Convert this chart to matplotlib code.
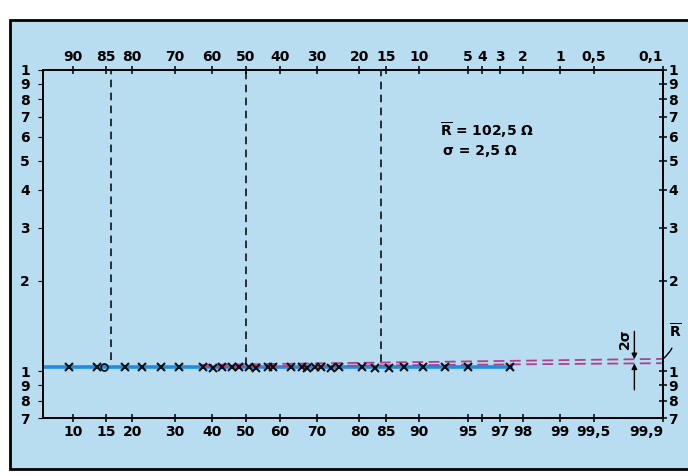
import numpy as np
import matplotlib
matplotlib.use("Agg")
import matplotlib.pyplot as plt
from matplotlib.patches import Rectangle
from matplotlib.ticker import NullLocator
from statistics import NormalDist

# Summenhaeufigkeit in % (untere Skala), Widerstand in 100 Ohm (log. Skala)
p_points = [9.5, 13.5, 18.5, 22, 26.5, 31, 37.5, 40.5, 43, 46, 48, 51, 53,
            56.5, 58, 63, 66, 67.5, 69.5, 71, 73.5, 75.5, 80.5, 83, 85.5,
            88, 90.5, 93, 95, 97.5]
r_points = [1.032, 1.030, 1.034, 1.031, 1.030, 1.031, 1.030, 1.029, 1.031,
            1.030, 1.032, 1.031, 1.029, 1.030, 1.031, 1.030, 1.032, 1.029,
            1.031, 1.030, 1.029, 1.030, 1.031, 1.029, 1.027, 1.030, 1.031,
            1.031, 1.030, 1.031]
p_circle = [14.6]
r_circle = [1.034]

# Ausgleichsgerade (blau) und Hilfslinien (magenta)
fit_p = [6.64, 97.6]
fit_r = [1.030, 1.030]
upper_p = [37, 99.9]
upper_r = [1.050, 1.100]
lower_p = [37, 99.9]
lower_r = [1.035, 1.064]

# senkrechte Linien bei -sigma, Mittelwert, +sigma
sigma_p = [15.87, 50, 84.13]
sigma_end = [1.09, 1.05, 1.07]

bottom_ticks = [10, 15, 20, 30, 40, 50, 60, 70, 80, 85, 90, 95, 96, 97, 98, 99, 99.5, 99.9]
bottom_labels = ['10', '15', '20', '30', '40', '50', '60', '70', '80', '85', '90',
                 '95', '', '97', '98', '99', '99,5', '99,9']
top_ticks = [90, 85, 80, 70, 60, 50, 40, 30, 20, 15, 10, 5, 4, 3, 2, 1, 0.5, 0.1]
top_labels = ['90', '85', '80', '70', '60', '50', '40', '30', '20', '15', '10',
              '5', '4', '3', '2', '1', '0,5', '0,1']
y_ticks = [0.7, 0.8, 0.9, 1, 2, 3, 4, 5, 6, 7, 8, 9, 10]
y_labels = ['7', '8', '9', '1', '2', '3', '4', '5', '6', '7', '8', '9', '1']

nd = NormalDist()


def to_z(p):
    p = np.clip(np.asarray(p, dtype=float), 1e-4, 100 - 1e-4)
    return np.vectorize(lambda v: nd.inv_cdf(v / 100.0), otypes=[float])(p)


def from_z(z):
    z = np.asarray(z, dtype=float)
    return np.vectorize(lambda v: nd.cdf(v) * 100.0, otypes=[float])(z)


plt.rcParams['font.family'] = 'DejaVu Sans'
plt.rcParams['font.weight'] = 'bold'
plt.rcParams['font.size'] = 10
plt.rcParams['mathtext.fontset'] = 'dejavusans'

rbar = r'$\overline{\mathbf{R}}$'

bg = '#b8ddf0'
fig = plt.figure(figsize=(6.88, 4.76), dpi=100)
fig.add_artist(Rectangle((0.014, 0.015), 1.0, 0.943, transform=fig.transFigure,
                         facecolor=bg, edgecolor='black', lw=2, zorder=-10))

ax = fig.add_axes([43 / 688, 1 - 418 / 476, 620 / 688, 348 / 476])
ax.patch.set_visible(False)
ax.set_xscale('function', functions=(to_z, from_z))
ax.set_yscale('log')
ax.set_xlim(6.64, 99.9)
ax.set_ylim(0.7, 10)

ax.set_xticks(bottom_ticks, bottom_labels)
ax.xaxis.set_minor_locator(NullLocator())
ax.set_yticks(y_ticks, y_labels)
ax.yaxis.set_minor_locator(NullLocator())
ax.tick_params(axis='x', direction='inout', length=6, width=1.1, pad=2)
ax.tick_params(axis='y', left=False, pad=6)
ax.get_xticklabels()[-1].set_horizontalalignment('right')

axr = ax.twinx()
axr.set_yscale('log')
axr.set_ylim(0.7, 10)
axr.set_yticks(y_ticks, y_labels)
axr.yaxis.set_minor_locator(NullLocator())
axr.tick_params(axis='y', direction='inout', length=6, width=1.1, pad=1)

axt = ax.twiny()
axt.set_xscale('function', functions=(to_z, from_z))
axt.set_xlim(6.64, 99.9)
axt.set_xticks([100 - q for q in top_ticks], top_labels)
axt.xaxis.set_minor_locator(NullLocator())
axt.tick_params(axis='x', direction='inout', length=6, width=1.1, pad=1.5)
axt.get_xticklabels()[-1].set_horizontalalignment('right')

for a in (ax, axr, axt):
    for s in a.spines.values():
        s.set_linewidth(1.1)

ax.vlines(sigma_p, sigma_end, 10, colors='black', lw=1.1, linestyles=(0, (5, 3.5)))
ax.plot(fit_p, fit_r, color='#1e8ce6', lw=2.6, solid_capstyle='butt', zorder=2)
ax.plot(upper_p, upper_r, color='#b0408f', lw=1.3, dashes=(6, 3), zorder=3)
ax.plot(lower_p, lower_r, color='#b0408f', lw=1.3, dashes=(6, 3), zorder=3)
ax.plot(p_points, r_points, ls='none', marker='x', ms=6, mew=1.5, color='#111111', zorder=4)
ax.plot(p_circle, r_circle, ls='none', marker='o', ms=5, mfc='none', mec='#111111',
        mew=1.3, zorder=4)

ax.text(0.640, 0.826, rbar + ' = 102,5 \u03a9', transform=ax.transAxes, ha='left', va='center')
ax.text(0.645, 0.766, '\u03c3 = 2,5 \u03a9', transform=ax.transAxes, ha='left', va='center')

# 2 sigma Pfeile
arrow = dict(arrowstyle='-|>', color='black', lw=1.0, mutation_scale=8, shrinkA=0, shrinkB=0)
ax.annotate('', xy=(99.8, 1.097), xytext=(0, 20), textcoords='offset points', arrowprops=arrow)
ax.annotate('', xy=(99.8, 1.062), xytext=(0, -19), textcoords='offset points', arrowprops=arrow)
ax.annotate('2\u03c3', xy=(99.8, 1.097), xytext=(-7, 15), textcoords='offset points',
            rotation=90, ha='center', va='center')
ax.annotate(rbar, xy=(99.9, 1.100), xytext=(9, 20), textcoords='offset points',
            ha='center', va='center', annotation_clip=False,
            arrowprops=dict(arrowstyle='-', color='black', lw=1.0,
                            connectionstyle='arc3,rad=-0.25', shrinkA=4, shrinkB=0))

fig.savefig('out.png', dpi=100)
